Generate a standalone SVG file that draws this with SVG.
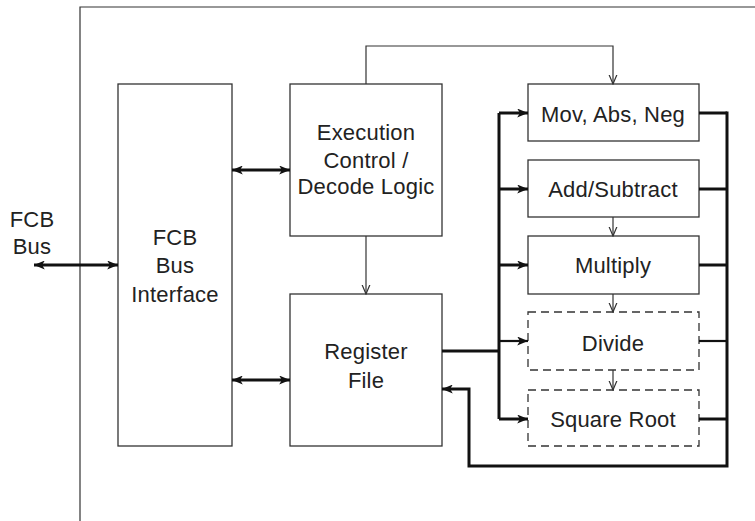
<svg xmlns="http://www.w3.org/2000/svg" width="755" height="521" viewBox="0 0 755 521">
  <style>
    .box { fill: #fff; stroke: #333; stroke-width: 1.3; }
    .dash { fill: #fff; stroke: #333; stroke-width: 1.3; stroke-dasharray: 8 5; }
    .thin { fill: none; stroke: #333; stroke-width: 1.2; }
    .thick { fill: none; stroke: #111; stroke-width: 3; }
    .mid { fill: none; stroke: #111; stroke-width: 2.2; }
    text { font-family: "Liberation Sans", Arial, sans-serif; font-size: 22px; fill: #222; text-anchor: middle; letter-spacing: 0.2px; }
  </style>
  <defs>
    <marker id="open" viewBox="0 0 10 10" refX="9.5" refY="5" markerWidth="10" markerHeight="10" markerUnits="userSpaceOnUse" orient="auto">
      <path d="M0,1 L9.5,5 L0,9" fill="none" stroke="#333" stroke-width="1.2"/>
    </marker>
    <marker id="fill" viewBox="0 0 12 10" refX="12" refY="5" markerWidth="12" markerHeight="9" markerUnits="userSpaceOnUse" orient="auto">
      <path d="M0,0 L12,5 L0,10 L3,5 Z" fill="#111"/>
    </marker>
    <marker id="fillStart" viewBox="0 0 12 10" refX="0" refY="5" markerWidth="12" markerHeight="9" markerUnits="userSpaceOnUse" orient="auto">
      <path d="M12,0 L0,5 L12,10 L9,5 Z" fill="#111"/>
    </marker>
  </defs>

  <!-- enclosing frame -->
  <path class="thin" d="M80,521 L80,7 L755,7"/>

  <!-- external bus label -->
  <text x="32" y="227">FCB</text>
  <text x="32" y="254">Bus</text>

  <g id="fcb-interface">
    <rect class="box" x="118" y="84" width="114" height="362"/>
    <text x="175" y="245">FCB</text>
    <text x="175" y="273">Bus</text>
    <text x="175" y="302">Interface</text>
  </g>

  <g id="exec-control">
    <rect class="box" x="290" y="84" width="152" height="152"/>
    <text x="366" y="140">Execution</text>
    <text x="366" y="168">Control /</text>
    <text x="366" y="194">Decode Logic</text>
  </g>

  <g id="register-file">
    <rect class="box" x="290" y="294" width="152" height="152"/>
    <text x="366" y="359">Register</text>
    <text x="366" y="388">File</text>
  </g>

  <g id="mov-abs-neg">
    <rect class="box" x="528" y="84" width="171" height="57"/>
    <text x="613" y="122">Mov, Abs, Neg</text>
  </g>

  <g id="add-subtract">
    <rect class="box" x="528" y="160" width="171" height="57"/>
    <text x="613" y="197">Add/Subtract</text>
  </g>

  <g id="multiply">
    <rect class="box" x="528" y="236" width="171" height="58"/>
    <text x="613" y="273">Multiply</text>
  </g>

  <g id="divide">
    <rect class="dash" x="528" y="312" width="171" height="58"/>
    <text x="613" y="351">Divide</text>
  </g>

  <g id="square-root">
    <rect class="dash" x="528" y="390" width="171" height="56"/>
    <text x="613" y="427">Square Root</text>
  </g>

  <g id="connectors">
    <!-- bidirectional bus links -->
    <line class="thick" x1="34" y1="265" x2="118" y2="265" marker-start="url(#fillStart)" marker-end="url(#fill)"/>
    <line class="thick" x1="232" y1="170" x2="290" y2="170" marker-start="url(#fillStart)" marker-end="url(#fill)"/>
    <line class="thick" x1="232" y1="380" x2="290" y2="380" marker-start="url(#fillStart)" marker-end="url(#fill)"/>

    <!-- control paths -->
    <path class="thin" d="M366,84 L366,46 L613,46 L613,84" marker-end="url(#open)"/>
    <line class="thin" x1="366" y1="236" x2="366" y2="294" marker-end="url(#open)"/>
    <line class="thin" x1="613" y1="217" x2="613" y2="236" marker-end="url(#open)"/>
    <line class="thin" x1="613" y1="294" x2="613" y2="312" marker-end="url(#open)"/>
    <line class="thin" x1="613" y1="370" x2="613" y2="390" marker-end="url(#open)"/>

    <!-- operand bus from register file -->
    <line class="thick" x1="442" y1="351" x2="499" y2="351"/>
    <line class="thick" x1="499" y1="113" x2="499" y2="419"/>
    <line class="thick" x1="499" y1="113" x2="528" y2="113" marker-end="url(#fill)"/>
    <line class="thick" x1="499" y1="189" x2="528" y2="189" marker-end="url(#fill)"/>
    <line class="thick" x1="499" y1="265" x2="528" y2="265" marker-end="url(#fill)"/>
    <line class="mid" x1="499" y1="341" x2="528" y2="341" marker-end="url(#fill)"/>
    <line class="thick" x1="499" y1="419" x2="528" y2="419" marker-end="url(#fill)"/>

    <!-- result bus back to register file -->
    <line class="thick" x1="699" y1="113" x2="727" y2="113"/>
    <line class="thick" x1="699" y1="189" x2="727" y2="189"/>
    <line class="thick" x1="699" y1="265" x2="727" y2="265"/>
    <line class="mid" x1="699" y1="341" x2="727" y2="341"/>
    <line class="thick" x1="699" y1="419" x2="727" y2="419"/>
    <path class="thick" d="M727,111.5 L727,466 L469,466 L469,389 L442,389" marker-end="url(#fill)"/>
  </g>
</svg>
